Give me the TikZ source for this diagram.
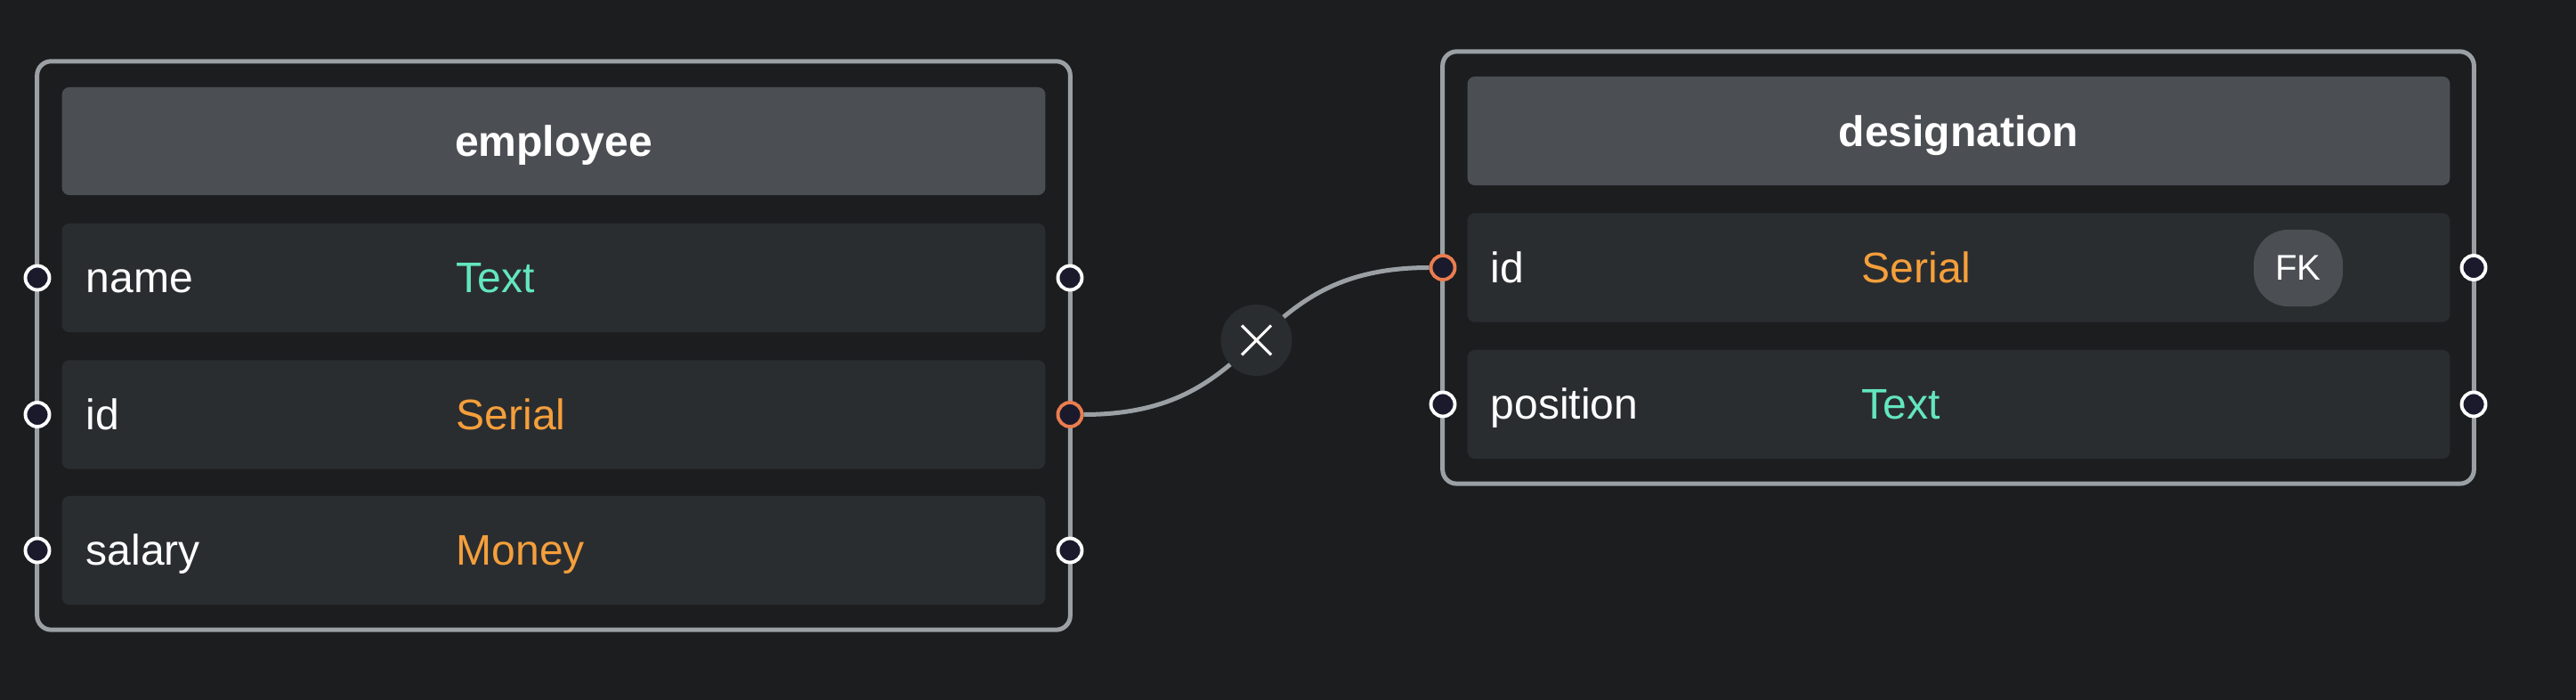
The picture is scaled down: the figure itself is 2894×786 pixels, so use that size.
\documentclass[tikz,border=0pt]{standalone}
\usepackage{fontspec}
\setmainfont{Liberation Sans}
\usepackage{tikz}
\usetikzlibrary{calc}
\definecolor{bgdark}{HTML}{1C1D1F}
\definecolor{headgray}{HTML}{4B4F54}
\definecolor{rowgray}{HTML}{2A2D30}
\definecolor{edgegray}{HTML}{9BA0A4}
\definecolor{portnavy}{HTML}{1B1A2D}
\definecolor{keyorange}{HTML}{EA7D4F}
\definecolor{typegreen}{HTML}{63E6BE}
\definecolor{typeorange}{HTML}{F59F3B}
\newcommand{\fieldfont}{\fontsize{13.66}{16}\selectfont}
\newcommand{\badgefont}{\fontsize{11.4}{14}\selectfont}
\tikzset{
    table/.style = {draw=edgegray, line width=1.42pt, fill=bgdark,
        rounded corners=4.5pt, inner sep=0pt},
    header/.style = {fill=headgray, rounded corners=2.3pt, inner sep=0pt,
        minimum height=1.21cm},
    field/.style = {fill=rowgray, rounded corners=2.3pt, inner sep=0pt,
        minimum height=1.22cm},
    title/.style = {text=white, font=\fieldfont\bfseries, anchor=base, inner sep=0pt},
    fieldname/.style = {text=white, font=\fieldfont, anchor=base west, inner sep=0pt},
    fieldtype/.style = {font=\fieldfont, anchor=base west, inner sep=0pt},
    port/.style = {circle, draw=white, fill=portnavy, line width=1.1pt,
        minimum size=0.27cm, inner sep=0pt},
    keyport/.style = {port, draw=keyorange},
    relation/.style = {draw=edgegray, line width=1.42pt},
    cross/.style = {circle, fill=rowgray, minimum size=0.8cm, inner sep=0pt},
    badge/.style = {fill=headgray, rounded corners=11pt, minimum width=1cm,
        minimum height=0.86cm, inner sep=0pt, text=white, font=\badgefont}
}

\begin{document}
\begin{tikzpicture}[x=0.01cm,y=-0.01cm]
    \fill[bgdark] (0,0) rectangle (2894,786);
    % employee table
    \node[table, minimum width=11.6cm, minimum height=6.38cm] (emp) at (622,388) {};
    \node[header, minimum width=11.04cm] (emp-head) at (622,158.5) {};
    \node[field, minimum width=11.04cm] (emp-name) at (622,312) {};
    \node[field, minimum width=11.04cm] (emp-id) at (622,465.5) {};
    \node[field, minimum width=11.04cm] (emp-salary) at (622,618) {};
    \node[title] (emp-title) at (622,176) {employee};
    \node[fieldname] (emp-name-lbl) at (96,329) {name};
    \node[fieldtype, text=typegreen] (emp-name-typ) at (512,329) {Text};
    \node[fieldname] (emp-id-lbl) at (96,482.5) {id};
    \node[fieldtype, text=typeorange] (emp-id-typ) at (512,482.5) {Serial};
    \node[fieldname] (emp-salary-lbl) at (96,635) {salary};
    \node[fieldtype, text=typeorange] (emp-salary-typ) at (512,635) {Money};
    \node[port] (emp-name-l) at (42,312) {};
    \node[port] (emp-name-r) at (1202,312) {};
    \node[port] (emp-id-l) at (42,465.5) {};
    \node[keyport] (emp-id-r) at (1202,465.5) {};
    \node[port] (emp-salary-l) at (42,618) {};
    \node[port] (emp-salary-r) at (1202,618) {};
    % designation table
    \node[table, minimum width=11.58cm, minimum height=4.85cm] (des) at (2200,300.5) {};
    \node[header, minimum width=11.03cm, minimum height=1.22cm] (des-head) at (2200.5,147) {};
    \node[field, minimum width=11.03cm] (des-id) at (2200.5,300.5) {};
    \node[field, minimum width=11.03cm] (des-position) at (2200.5,454) {};
    \node[title] (des-title) at (2200.5,164.5) {designation};
    \node[fieldname] (des-id-lbl) at (1674,317.5) {id};
    \node[fieldtype, text=typeorange] (des-id-typ) at (2091,317.5) {Serial};
    \node[badge] (des-id-fk) at (2582,301) {FK};
    \node[fieldname] (des-position-lbl) at (1674,471) {position};
    \node[fieldtype, text=typegreen] (des-position-typ) at (2091,471) {Text};
    \node[keyport] (des-id-l) at (1621,300.5) {};
    \node[port] (des-id-r) at (2779,300.5) {};
    \node[port] (des-position-l) at (1621,454) {};
    \node[port] (des-position-r) at (2779,454) {};
    % relation
    \draw[relation] (emp-id-r.east) .. controls +(209.5,0) and +(-209.5,0) .. (des-id-l.west);
    \node[cross] (rel-cut) at (1411.5,382) {};
    \draw[white, line width=0.9pt] ($(rel-cut)+(-16.5,-16.5)$) -- ($(rel-cut)+(16.5,16.5)$);
    \draw[white, line width=0.9pt] ($(rel-cut)+(-16.5,16.5)$) -- ($(rel-cut)+(16.5,-16.5)$);
\end{tikzpicture}
\end{document}
